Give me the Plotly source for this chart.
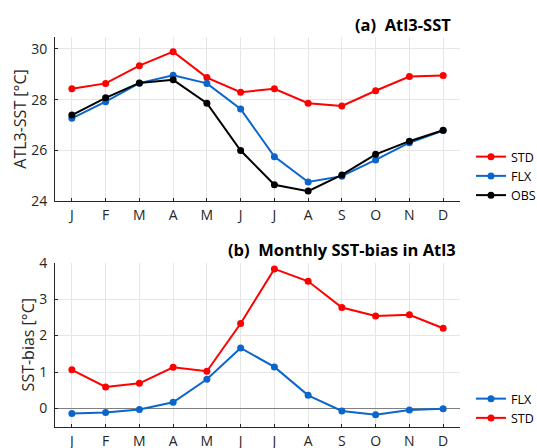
import plotly.graph_objects as go

months = ["J", "F", "M", "A", "M", "J", "J", "A", "S", "O", "N", "D"]
month_idx = list(range(1, 13))

# Panel (a): Atl3 SST [°C]
sst_std = [28.43, 28.64, 29.34, 29.89, 28.87, 28.29, 28.43, 27.86, 27.75, 28.35, 28.91, 28.95]
sst_flx = [27.26, 27.92, 28.65, 28.96, 28.64, 27.63, 25.75, 24.75, 24.98, 25.62, 26.30, 26.78]
sst_obs = [27.39, 28.07, 28.66, 28.78, 27.86, 25.99, 24.64, 24.39, 25.03, 25.84, 26.36, 26.79]

# Panel (b): monthly SST bias [°C]
bias_flx = [-0.14, -0.11, -0.03, 0.17, 0.80, 1.66, 1.14, 0.36, -0.07, -0.17, -0.04, -0.01]
bias_std = [1.06, 0.59, 0.69, 1.13, 1.02, 2.33, 3.83, 3.49, 2.77, 2.54, 2.57, 2.20]

RED = "#ff0000"
BLUE = "#0a66cc"
BLACK = "#000000"
FONT = "Open Sans"
AX = "#262626"
GRID = "#e6e6e6"

fig = go.Figure()

def add(x, y, color, name, xa, ya, legend):
    fig.add_trace(go.Scatter(
        x=x, y=y, mode="lines+markers", name=name,
        line=dict(color=color, width=2),
        marker=dict(color=color, size=7),
        xaxis=xa, yaxis=ya, legend=legend))

add(month_idx, sst_std, RED, "STD", "x", "y", "legend")
add(month_idx, sst_flx, BLUE, "FLX", "x", "y", "legend")
add(month_idx, sst_obs, BLACK, "OBS", "x", "y", "legend")
add(month_idx, bias_flx, BLUE, "FLX", "x2", "y2", "legend2")
add(month_idx, bias_std, RED, "STD", "x2", "y2", "legend2")

W, H = 537, 448
xdom = [55 / W, 460 / W]

common_x = dict(
    tickmode="array", tickvals=month_idx, ticktext=months, range=[0.5, 12.5],
    showgrid=True, gridcolor=GRID, gridwidth=1,
    showline=True, linecolor=AX, linewidth=1,
    ticks="inside", ticklen=3, tickcolor=AX, ticklabelstandoff=1,
    tickfont=dict(family=FONT, size=14, color=AX),
    zeroline=False, domain=xdom, automargin=False,
)
common_y = dict(
    showgrid=True, gridcolor=GRID, gridwidth=1,
    showline=True, linecolor=AX, linewidth=1,
    ticks="inside", ticklen=3, tickcolor=AX, ticklabelstandoff=4,
    tickfont=dict(family=FONT, size=14, color=AX), automargin=False,
)

leg_common = dict(xref="container", yref="container", xanchor="left", yanchor="top",
                  bgcolor="rgba(0,0,0,0)", font=dict(family=FONT, size=12.5, color="#000"),
                  tracegroupgap=0, itemwidth=30, borderwidth=0)

fig.update_layout(
    width=W, height=H,
    margin=dict(l=0, r=0, t=0, b=0, autoexpand=False),
    paper_bgcolor="white", plot_bgcolor="white",
    font=dict(family=FONT, size=14, color=AX),
    showlegend=True,
    xaxis=dict(common_x, anchor="y"),
    yaxis=dict(common_y, anchor="x", range=[24, 30.47], tickvals=[24, 26, 28, 30],
               domain=[1 - 201 / H, 1 - 37 / H], zeroline=False,
               title=dict(text="ATL3-SST [°C]", font=dict(family=FONT, size=16, color=AX), standoff=0)),
    xaxis2=dict(common_x, anchor="y2"),
    yaxis2=dict(common_y, anchor="x2", range=[-0.5, 4], tickvals=[0, 1, 2, 3, 4],
                domain=[1 - 426.7 / H, 1 - 262.7 / H],
                zeroline=True, zerolinecolor="#7f7f7f", zerolinewidth=1,
                title=dict(text="SST-bias [°C]", font=dict(family=FONT, size=16, color=AX), standoff=0)),
    legend=dict(leg_common, x=471 / W, y=1 - 142 / H),
    legend2=dict(leg_common, x=471 / W, y=1 - 384 / H),
    annotations=[
        dict(text="<b>(a)  Atl3-SST</b>", x=453 / W, y=1 - 24 / H, xref="paper", yref="paper",
             xanchor="right", yanchor="middle", showarrow=False,
             font=dict(family=FONT, size=16.5, color="#000")),
        dict(text="<b>(b)  Monthly SST-bias in Atl3</b>", x=458 / W, y=1 - 249 / H, xref="paper", yref="paper",
             xanchor="right", yanchor="middle", showarrow=False,
             font=dict(family=FONT, size=16.5, color="#000")),
    ],
)

fig.write_html("out.html", config={"displayModeBar": False},
               post_script="document.body.style.margin='0px';document.body.style.overflow='hidden';")
